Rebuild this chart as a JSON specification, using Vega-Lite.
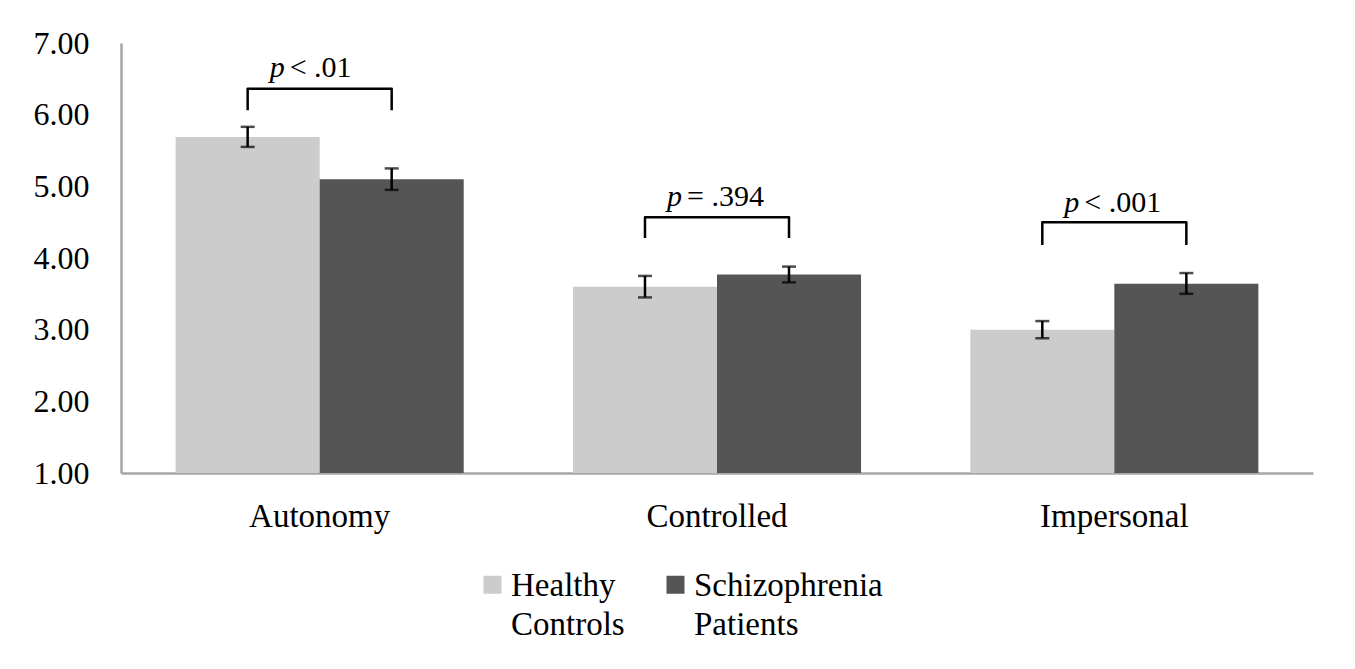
{
  "$schema": "https://vega.github.io/schema/vega-lite/v6.json",
  "autosize": {"type": "none"},
  "width": 1192,
  "height": 430,
  "padding": {"left": 121, "top": 43, "right": 42, "bottom": 196},
  "background": "white",
  "config": {
    "view": {"stroke": null},
    "font": "Liberation Serif"
  },
  "datasets": {
    "bars": [
      {"category": "Autonomy", "group": "Healthy Controls", "mean": 5.69, "lo": 5.55, "hi": 5.83},
      {"category": "Autonomy", "group": "Schizophrenia Patients", "mean": 5.10, "lo": 4.95, "hi": 5.25},
      {"category": "Controlled", "group": "Healthy Controls", "mean": 3.60, "lo": 3.45, "hi": 3.75},
      {"category": "Controlled", "group": "Schizophrenia Patients", "mean": 3.77, "lo": 3.66, "hi": 3.88},
      {"category": "Impersonal", "group": "Healthy Controls", "mean": 3.00, "lo": 2.88, "hi": 3.12},
      {"category": "Impersonal", "group": "Schizophrenia Patients", "mean": 3.64, "lo": 3.50, "hi": 3.79}
    ],
    "brackets": [
      {"category": "Autonomy", "group": "Healthy Controls", "y": 6.06, "ord": 1},
      {"category": "Autonomy", "group": "Healthy Controls", "y": 6.36, "ord": 2},
      {"category": "Autonomy", "group": "Schizophrenia Patients", "y": 6.36, "ord": 3},
      {"category": "Autonomy", "group": "Schizophrenia Patients", "y": 6.06, "ord": 4},
      {"category": "Controlled", "group": "Healthy Controls", "y": 4.28, "ord": 1},
      {"category": "Controlled", "group": "Healthy Controls", "y": 4.57, "ord": 2},
      {"category": "Controlled", "group": "Schizophrenia Patients", "y": 4.57, "ord": 3},
      {"category": "Controlled", "group": "Schizophrenia Patients", "y": 4.28, "ord": 4},
      {"category": "Impersonal", "group": "Healthy Controls", "y": 4.18, "ord": 1},
      {"category": "Impersonal", "group": "Healthy Controls", "y": 4.50, "ord": 2},
      {"category": "Impersonal", "group": "Schizophrenia Patients", "y": 4.50, "ord": 3},
      {"category": "Impersonal", "group": "Schizophrenia Patients", "y": 4.18, "ord": 4}
    ],
    "labels": [
      {"category": "Autonomy", "group": "Healthy Controls", "y": 6.65, "p": "p", "rest": "< .01"},
      {"category": "Controlled", "group": "Healthy Controls", "y": 4.85, "p": "p", "rest": "= .394"},
      {"category": "Impersonal", "group": "Healthy Controls", "y": 4.77, "p": "p", "rest": "< .001"}
    ]
  },
  "encoding": {
    "x": {
      "field": "category", "type": "nominal",
      "scale": {"domain": ["Autonomy", "Controlled", "Impersonal"], "paddingInner": 0.275, "paddingOuter": 0.1375},
      "axis": {"title": null, "labelAngle": 0, "ticks": false, "domainColor": "#a6a6a6", "domainWidth": 2.5, "labelFontSize": 33, "labelColor": "black", "labelPadding": 27, "labelFont": "Liberation Serif"}
    },
    "xOffset": {
      "field": "group", "type": "nominal",
      "scale": {"domain": ["Healthy Controls", "Schizophrenia Patients"], "paddingInner": 0, "paddingOuter": 0}
    }
  },
  "layer": [
    {
      "data": {"name": "bars"},
      "mark": {"type": "bar"},
      "encoding": {
        "y": {
          "field": "mean", "type": "quantitative",
          "scale": {"domain": [1, 7], "nice": false, "zero": false},
          "axis": {"title": null, "values": [1, 2, 3, 4, 5, 6, 7], "format": ".2f", "grid": false, "ticks": false, "domainColor": "#a6a6a6", "domainWidth": 2.5, "labelFontSize": 32, "labelColor": "black", "labelPadding": 32, "labelFont": "Liberation Serif"}
        },
        "y2": {"datum": 1},
        "color": {
          "field": "group", "type": "nominal",
          "scale": {"domain": ["Healthy Controls", "Schizophrenia Patients"], "range": ["#cccccc", "#555555"]},
          "legend": {
            "title": null, "orient": "none", "legendX": 355, "legendY": 525, "direction": "horizontal", "columns": 2,
            "symbolType": "square", "symbolSize": 324, "symbolStrokeWidth": 0, "symbolOpacity": 1,
            "labelFontSize": 33, "labelColor": "black", "labelFont": "Liberation Serif",
            "labelBaseline": "alphabetic", "labelOffset": 2, "columnPadding": 34, "labelLimit": 300,
            "labelExpr": "datum.label == 'Healthy Controls' ? ['Healthy', 'Controls'] : ['Schizophrenia', 'Patients']",
            "encode": {"labels": {"update": {"lineHeight": {"value": 39}, "dy": {"value": 11}}}}
          }
        }
      }
    },
    {
      "data": {"name": "bars"},
      "mark": {"type": "rule", "color": "black", "strokeWidth": 2.5},
      "encoding": {
        "y": {"field": "lo", "type": "quantitative"},
        "y2": {"field": "hi"}
      }
    },
    {
      "data": {"name": "bars"},
      "mark": {"type": "tick", "color": "black", "thickness": 2.5, "size": 14, "orient": "horizontal"},
      "encoding": {
        "y": {"field": "lo", "type": "quantitative"}
      }
    },
    {
      "data": {"name": "bars"},
      "mark": {"type": "tick", "color": "black", "thickness": 2.5, "size": 14, "orient": "horizontal"},
      "encoding": {
        "y": {"field": "hi", "type": "quantitative"}
      }
    },
    {
      "data": {"name": "brackets"},
      "mark": {"type": "line", "color": "black", "strokeWidth": 2.5, "strokeJoin": "round"},
      "encoding": {
        "y": {"field": "y", "type": "quantitative"},
        "detail": {"field": "category"},
        "order": {"field": "ord", "type": "quantitative"}
      }
    },
    {
      "data": {"name": "labels"},
      "mark": {"type": "text", "fontStyle": "italic", "fontSize": 30, "align": "right", "baseline": "middle", "dx": 37, "color": "black", "font": "Liberation Serif"},
      "encoding": {
        "y": {"field": "y", "type": "quantitative"},
        "text": {"field": "p"}
      }
    },
    {
      "data": {"name": "labels"},
      "mark": {"type": "text", "fontSize": 30, "align": "left", "baseline": "middle", "dx": 42, "color": "black", "font": "Liberation Serif"},
      "encoding": {
        "y": {"field": "y", "type": "quantitative"},
        "text": {"field": "rest"}
      }
    }
  ]
}
